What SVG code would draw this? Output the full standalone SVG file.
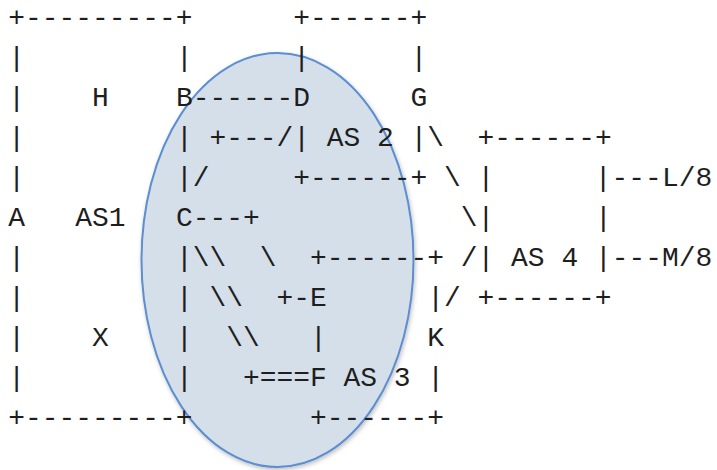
<svg xmlns="http://www.w3.org/2000/svg" width="717" height="470" viewBox="0 0 717 470">
  <style>
    .t { font-family: "Liberation Mono", "Courier New", monospace; font-size: 27.93px; fill: #1e1e1e; white-space: pre; }
  </style>
  <defs>
    <filter id="sh" x="-10%" y="-10%" width="120%" height="120%">
      <feDropShadow dx="1" dy="2" stdDeviation="2" flood-color="#000" flood-opacity="0.25"/>
    </filter>
  </defs>
  <rect width="717" height="470" fill="#ffffff"/>
  <g id="oval">
    <ellipse cx="277.5" cy="260" rx="136" ry="207" fill="#d5dfe9" stroke="#5b8ed0" stroke-width="2" filter="url(#sh)"/>
  </g>
  <g id="connectors" xml:space="preserve">
    <text class="t" x="8.32" y="26">+---------+</text>
    <text class="t" x="293.24" y="26">+------+</text>
    <text class="t" x="8.32" y="66">|</text>
    <text class="t" x="175.92" y="66">|</text>
    <text class="t" x="293.24" y="66">|</text>
    <text class="t" x="410.56" y="66">|</text>
    <text class="t" x="8.32" y="106">|</text>
    <text class="t" x="192.68" y="106">------</text>
    <text class="t" x="8.32" y="146">|</text>
    <text class="t" x="175.92" y="146">| +---/|</text>
    <text class="t" x="410.56" y="146">|\</text>
    <text class="t" x="477.6" y="146">+------+</text>
    <text class="t" x="8.32" y="186">|</text>
    <text class="t" x="175.92" y="186">|/</text>
    <text class="t" x="293.24" y="186">+------+ \ |      |---</text>
    <text class="t" x="192.68" y="226">---+</text>
    <text class="t" x="460.84" y="226">\|      |</text>
    <text class="t" x="8.32" y="266">|</text>
    <text class="t" x="175.92" y="266">|\\  \  +------+ /|</text>
    <text class="t" x="594.92" y="266">|---</text>
    <text class="t" x="8.32" y="306">|</text>
    <text class="t" x="175.92" y="306">| \\  +-</text>
    <text class="t" x="427.32" y="306">|/ +------+</text>
    <text class="t" x="8.32" y="346">|</text>
    <text class="t" x="175.92" y="346">|  \\   |</text>
    <text class="t" x="8.32" y="386">|</text>
    <text class="t" x="175.92" y="386">|   +===</text>
    <text class="t" x="427.32" y="386">|</text>
    <text class="t" x="8.32" y="426">+---------+</text>
    <text class="t" x="310" y="426">+------+</text>
  </g>
  <g id="node-H"><text class="t" x="92.12" y="106">H</text></g>
  <g id="node-B"><text class="t" x="175.92" y="106">B</text></g>
  <g id="node-D"><text class="t" x="293.24" y="106">D</text></g>
  <g id="node-G"><text class="t" x="410.56" y="106">G</text></g>
  <g id="label-AS2"><text class="t" x="326.76" y="146" xml:space="preserve">AS 2</text></g>
  <g id="node-L8"><text class="t" x="661.96" y="186">L/8</text></g>
  <g id="node-A"><text class="t" x="8.32" y="226">A</text></g>
  <g id="label-AS1"><text class="t" x="75.36" y="226">AS1</text></g>
  <g id="node-C"><text class="t" x="175.92" y="226">C</text></g>
  <g id="label-AS4"><text class="t" x="511.12" y="266" xml:space="preserve">AS 4</text></g>
  <g id="node-M8"><text class="t" x="661.96" y="266">M/8</text></g>
  <g id="node-E"><text class="t" x="310" y="306">E</text></g>
  <g id="node-X"><text class="t" x="92.12" y="346">X</text></g>
  <g id="node-K"><text class="t" x="427.32" y="346">K</text></g>
  <g id="node-F"><text class="t" x="310" y="386">F</text></g>
  <g id="label-AS3"><text class="t" x="343.52" y="386" xml:space="preserve">AS 3</text></g>
</svg>
